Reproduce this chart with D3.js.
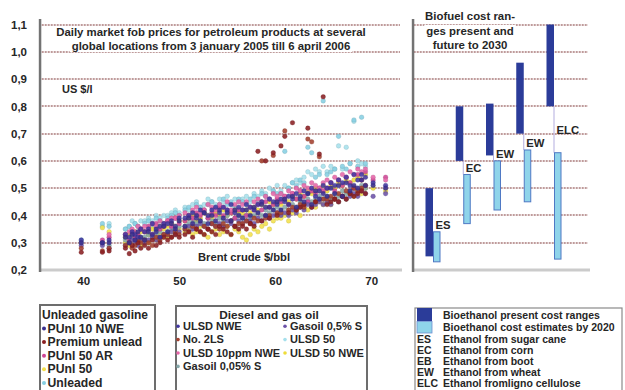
<!DOCTYPE html>
<html><head><meta charset="utf-8">
<script src="https://cdn.jsdelivr.net/npm/d3@7"></script>
<style>
body{margin:0;background:#fff}
svg{display:block;font-family:"Liberation Sans",Arial,Helvetica,sans-serif}
</style>
</head><body>
<svg id="c" width="625" height="390"></svg>
<script>
// ---------- DATA ----------
// Brent crude ($/bbl) on the sampled days
const brent = [39.8, 42.0, 42.7,
  44.4, 44.8, 45.1, 45.4, 45.7, 46.0,
  46.4, 46.8, 47.2, 47.6, 48.0, 48.4,
  48.8, 49.2, 49.6, 50.0,
  50.6, 51.0, 51.4, 51.8, 52.2, 52.6, 53.0, 53.4, 53.8, 54.2, 54.6, 55.0, 55.4, 55.8, 56.2,
  56.6, 57.0, 57.4, 57.8, 58.2, 58.6, 59.0, 59.4, 59.8, 60.2,
  60.6, 61.0, 61.4, 61.8, 62.2, 62.6, 63.0, 63.4, 63.8, 64.2, 64.6, 65.0,
  65.4, 65.8, 66.2, 66.6, 67.0, 67.4, 67.8, 68.2, 68.6, 69.0, 69.4,
  70.2, 71.5];

// Product prices (US $/l) on the same days
const pUnl10NWE = [0.30,0.30,0.30, 0.32,0.30,0.33,0.31,0.34,0.32, 0.31,0.34,0.33,0.35,0.32,0.36, 0.34,0.37,0.35,0.38,
  0.36,0.39,0.37,0.40,0.38,0.41,0.37,0.40,0.38,0.42,0.39,0.41,0.38,0.42,0.40,
  0.39,0.42,0.40,0.43,0.41,0.44,0.40,0.43,0.42,0.45,
  0.42,0.46,0.44,0.47,0.43,0.46,0.45,0.48,0.44,0.49,0.46,0.48,
  0.47,0.50,0.48,0.51,0.47,0.52,0.49,0.51,0.50,0.53,0.51, 0.51,0.50];
const premiumUnlead = [0.265,0.265,0.27, 0.28,0.26,0.29,0.27,0.30,0.28, 0.29,0.28,0.31,0.29,0.30,0.32, 0.31,0.32,0.33,0.32,
  0.33,0.34,0.32,0.35,0.34,0.33,0.35,0.34,0.33,0.36,0.35,0.34,0.33,0.36,0.35,
  0.36,0.35,0.37,0.36,0.635,0.38,0.60,0.39,0.63,0.40,
  0.655,0.69,0.41,0.74,0.42,0.43,0.44,0.72,0.43,0.45,0.625,0.835,
  0.44,0.45,0.46,0.45,0.47,0.46,0.48,0.47,0.48,0.49,0.48, null,null];
const pUnl50AR = [null,0.31,0.32, 0.33,0.31,0.34,0.32,0.33,0.35, 0.34,0.36,0.33,0.37,0.35,0.36, 0.38,0.36,0.39,0.37,
  0.38,0.40,0.39,0.41,0.40,0.42,0.39,0.41,0.40,0.43,0.40,0.42,0.41,0.39,0.42,
  0.42,0.40,0.43,0.42,0.44,0.42,0.45,0.43,0.44,0.46,
  0.45,0.47,0.44,0.48,0.46,0.49,0.47,0.45,0.49,0.48,0.50,0.49,
  0.50,0.52,0.49,0.53,0.51,0.54,0.52,0.50,0.55,0.53,0.56, 0.53,0.54];
const pUnl50 = [null,0.355,0.34, 0.30,0.29,0.31,0.30,0.32,0.29, 0.31,0.30,0.32,0.31,0.33,0.32, 0.32,0.34,0.33,0.35,
  0.34,0.35,0.33,0.34,0.36,0.33,0.32,0.34,0.35,0.33,0.34,0.36,0.33,0.35,0.34,
  0.32,0.31,0.33,0.35,0.34,0.36,0.37,0.35,0.38,0.39,
  0.39,0.40,0.38,0.41,0.42,0.40,0.43,0.42,0.44,0.43,0.45,0.44,
  0.45,0.44,0.46,0.45,0.47,0.46,0.48,0.47,0.49,0.48,0.50, null,null];
const unleaded = [0.31,0.37,0.36, 0.35,0.36,0.34,0.37,0.36,0.35, 0.37,0.38,0.36,0.39,0.38,0.37, 0.39,0.40,0.41,0.40,
  0.42,0.43,0.41,0.44,0.43,0.42,0.44,0.45,0.43,0.44,0.46,0.44,0.45,0.43,0.46,
  0.45,0.44,0.46,0.47,0.45,0.48,0.47,0.46,0.49,0.48,
  0.48,0.635,0.50,0.52,0.51,0.53,0.52,0.65,0.63,0.54,0.55,0.82,
  0.55,0.56,0.57,0.69,0.58,0.57,0.59,0.75,0.58,0.76,0.59, null,null];
const ulsdNWE = [0.31,0.30,0.31, 0.33,0.32,0.34,0.33,0.32,0.35, 0.34,0.35,0.37,0.34,0.36,0.37, 0.37,0.38,0.36,0.39,
  0.39,0.40,0.41,0.39,0.42,0.41,0.40,0.42,0.43,0.41,0.43,0.42,0.44,0.41,0.43,
  0.42,0.44,0.43,0.42,0.44,0.45,0.43,0.46,0.45,0.44,
  0.46,0.45,0.47,0.46,0.48,0.47,0.49,0.48,0.50,0.47,0.49,0.51,
  0.50,0.52,0.51,0.53,0.52,0.54,0.51,0.55,0.53,0.55,0.54, 0.52,0.51];
const no2LS = [0.28,0.27,0.28, 0.29,0.30,0.28,0.29,0.31,0.30, 0.31,0.30,0.29,0.32,0.31,0.33, 0.33,0.32,0.34,0.33,
  0.35,0.34,0.36,0.35,0.34,0.36,0.35,0.37,0.36,0.35,0.37,0.36,0.38,0.36,0.37,
  0.37,0.38,0.37,0.39,0.38,0.60,0.39,0.40,0.62,0.41,
  0.41,0.71,0.42,0.43,0.42,0.44,0.43,0.68,0.67,0.45,0.615,0.46,
  0.46,0.47,0.46,0.48,0.47,0.49,0.48,0.50,0.49,0.50,0.51, null,null];
const ulsd10ppmNWE = [null,null,0.33, 0.33,0.34,0.35,0.34,0.36,0.35, 0.36,0.35,0.37,0.36,0.38,0.37, 0.38,0.39,0.39,0.40,
  0.41,0.40,0.42,0.43,0.41,0.42,0.44,0.43,0.42,0.44,0.43,0.45,0.42,0.44,0.45,
  0.44,0.45,0.43,0.45,0.46,0.45,0.47,0.46,0.48,0.47,
  0.48,0.47,0.49,0.48,0.50,0.49,0.51,0.50,0.52,0.51,0.50,0.52,
  0.53,0.52,0.54,0.53,0.55,0.54,0.56,0.55,0.57,0.56,0.57, 0.54,0.53];
const gasoil005S = [0.30,0.30,0.29, 0.31,0.30,0.32,0.31,0.30,0.32, 0.32,0.33,0.32,0.33,0.34,0.33, 0.34,0.35,0.35,0.36,
  0.36,0.37,0.38,0.37,0.38,0.37,0.39,0.38,0.37,0.39,0.38,0.40,0.38,0.39,0.40,
  0.39,0.40,0.39,0.40,0.41,0.40,0.42,0.41,0.42,0.43,
  0.42,0.43,0.42,0.44,0.43,0.45,0.44,0.46,0.45,0.46,0.47,0.46,
  0.47,0.46,0.48,0.47,0.49,0.48,0.49,0.50,0.49,0.51,0.50, null,null];
const gasoil05S = [0.29,0.29,0.28, 0.29,0.30,0.31,0.30,0.29,0.31, 0.30,0.31,0.32,0.31,0.32,0.33, 0.33,0.34,0.33,0.34,
  0.35,0.36,0.35,0.36,0.37,0.36,0.35,0.37,0.36,0.37,0.36,0.38,0.37,0.36,0.38,
  0.37,0.38,0.38,0.37,0.39,0.38,0.40,0.39,0.40,0.41,
  0.40,0.41,0.40,0.42,0.41,0.43,0.42,0.44,0.43,0.44,0.45,0.44,
  0.45,0.44,0.46,0.45,0.47,0.46,0.47,0.48,0.47,0.49,0.48, 0.47,0.48];
const ulsd50 = [null,0.36,0.37, 0.35,0.36,0.38,0.37,0.36,0.38, 0.38,0.39,0.38,0.40,0.39,0.40, 0.40,0.41,0.42,0.41,
  0.43,0.42,0.44,0.45,0.43,0.44,0.46,0.45,0.44,0.46,0.45,0.47,0.44,0.46,0.45,
  0.46,0.47,0.45,0.48,0.47,0.49,0.48,0.50,0.49,0.51,
  0.49,0.51,0.50,0.52,0.53,0.52,0.54,0.56,0.55,0.57,0.56,0.58,
  0.56,0.58,0.57,0.655,0.57,0.65,0.59,0.745,0.60,0.59,0.58, null,null];
const ulsd50NWE = [null,null,null, 0.32,0.33,0.32,0.34,0.33,0.34, 0.34,0.33,0.35,0.34,0.36,0.35, 0.36,0.37,0.36,0.38,
  0.38,0.39,0.40,0.38,0.39,0.41,0.40,0.39,0.41,0.40,0.42,0.40,0.41,0.42,0.41,
  0.41,0.42,0.41,0.43,0.42,0.44,0.43,0.45,0.44,0.45,
  0.44,0.46,0.45,0.47,0.46,0.48,0.47,0.49,0.48,0.50,0.49,0.51,
  0.49,0.51,0.50,0.52,0.51,0.53,0.52,0.53,0.54,0.53,0.55, 0.50,0.49];

const gasolineNames = ["PUnl 10 NWE","Premium unlead","PUnl 50 AR","PUnl 50","Unleaded"];
const gasolineColors = ["#3a2f8e","#8a1f22","#cf4596","#f3e04a","#86cfe2"];
const dieselNames = ["ULSD NWE","No. 2LS","ULSD 10ppm NWE","Gasoil 0,05% S","Gasoil 0,5% S","ULSD 50","ULSD 50 NWE"];
const dieselColors = ["#4237a0","#a3402e","#e565a8","#86a8aa","#6c52a8","#a6e0ec","#eedc3a"];

const yTicks = [0.2,0.3,0.4,0.5,0.6,0.7,0.8,0.9,1.0,1.1];
const xTicks = [40,50,60,70];

// Biofuel cost ranges (US $/l)
const bioCodes = ["ES","EC","EW","EW","ELC"];
const presentLow  = [0.25,0.60,0.62,0.70,0.80];
const presentHigh = [0.50,0.80,0.81,0.96,1.10];
const futureLow   = [0.23,0.37,0.42,0.45,0.24];
const futureHigh  = [0.34,0.55,0.60,0.64,0.63];

const bioLegendNames = ["Bioethanol present cost ranges","Bioethanol cost estimates by 2020"];
const bioLegendCodes = ["ES","EC","EB","EW","ELC"];
const bioLegendTexts = ["Ethanol from sugar cane","Ethanol from corn","Ethanol from boot","Ethanol from wheat","Ethanol fromligno cellulose"];

// ---------- DRAWING ----------
const svg = d3.select("#c");
const TXT = "#262626";
const GRID = "#bf9b9b";
const DARK = "#2b3c99", LIGHT = "#8fd4ea", LIGHTSTROKE = "#4f79c4";

const x = d3.scaleLinear().domain([35.5, 73]).range([40, 400]);
const y = d3.scaleLinear().domain([0.2, 1.1]).range([270, 24.5]);
const fmt = v => d3.format(".1f")(v).replace(".", ",");

// dotted pattern for gridlines
const defs = svg.append("defs");
const pat = defs.append("pattern").attr("id","dots").attr("patternUnits","userSpaceOnUse")
  .attr("width",3).attr("height",2).attr("x",0).attr("y",0);
pat.append("rect").attr("x",0).attr("y",0).attr("width",3).attr("height",2).attr("fill","#ece2e2");
pat.append("rect").attr("x",0).attr("y",0).attr("width",1.6).attr("height",2).attr("fill",GRID);

// y labels (left)
const gy = svg.append("g").attr("transform","translate(40,0)")
  .call(d3.axisLeft(y).tickValues(yTicks).tickFormat(fmt).tickSize(0).tickPadding(13));
gy.select(".domain").remove();
gy.selectAll("text").attr("font-size", 11.5).attr("font-weight","bold").attr("fill", TXT).attr("font-family","Liberation Sans, Arial, sans-serif");

// dotted gridlines (both panels), drawn as thin patterned rects
const gridVals = yTicks.filter(v => v > 0.2);
function drawGrid(x1, x2){
  svg.append("g").selectAll("rect").data(gridVals).join("rect")
    .attr("x", x1).attr("width", x2 - x1)
    .attr("y", d => Math.round(y(d)) - 1).attr("height", 2)
    .attr("fill", "url(#dots)");
}
drawGrid(41, 400);
drawGrid(414, 588);

// x axes (baseline bars)
svg.append("rect").attr("x",40).attr("y",y(0.2) - 1.5).attr("width",362).attr("height",3).attr("fill","#cbcbcb");
svg.append("rect").attr("x",413).attr("y",y(0.2) - 1.5).attr("width",177).attr("height",3).attr("fill","#cbcbcb");
const gx = svg.append("g").attr("transform","translate(0,270)")
  .call(d3.axisBottom(x).tickValues(xTicks).tickSize(0).tickSizeOuter(0).tickPadding(7));
gx.select(".domain").remove();
gx.selectAll("text").attr("font-size", 11.5).attr("font-weight","bold").attr("fill", TXT).attr("font-family","Liberation Sans, Arial, sans-serif");

// scatter
const seriesValues = [ulsd50, unleaded, pUnl50, ulsd50NWE, gasoil005S, pUnl50AR, ulsd10ppmNWE, gasoil05S, no2LS, premiumUnlead, ulsdNWE, pUnl10NWE];
const seriesCols = [dieselColors[5], gasolineColors[4], gasolineColors[3], dieselColors[6], dieselColors[3], gasolineColors[2], dieselColors[2], dieselColors[4], dieselColors[1], gasolineColors[1], dieselColors[0], gasolineColors[0]];
const pts = [];
seriesValues.forEach((vals, si) => vals.forEach((v, i) => { if (v != null) pts.push({bx: brent[i], v, c: seriesCols[si]}); }));
svg.append("g").selectAll("circle").data(pts).join("circle")
  .attr("cx", d => x(d.bx)).attr("cy", d => y(d.v)).attr("r", 2.3)
  .attr("fill", d => d.c).attr("fill-opacity", 0.88)
  .attr("stroke", d => d3.color(d.c).darker(0.7)).attr("stroke-width", 0.5).attr("stroke-opacity", 0.6);

// axes vertical lines
svg.append("rect").attr("x",38.8).attr("y",19).attr("width",2.5).attr("height",253).attr("fill","#737373");
svg.append("rect").attr("x",411.8).attr("y",19).attr("width",2.5).attr("height",253).attr("fill","#737373");

// text helper with white background
function label(txt, px, py, opts = {}){
  const g = svg.append("g");
  const t = g.append("text").attr("x", px).attr("y", py).text(txt)
    .attr("font-size", opts.size || 11).attr("font-weight", "bold").attr("fill", TXT)
    .attr("text-anchor", opts.anchor || "start");
  if (opts.bg){
    const b = t.node().getBBox();
    g.insert("rect","text").attr("x", b.x - 2).attr("y", b.y).attr("width", b.width + 4).attr("height", b.height).attr("fill", "#fff");
  }
  return t;
}

label("Daily market fob prices for petroleum products at several", 211, 36, {size:11.4, anchor:"middle", bg:true});
label("global locations from 3 january 2005 till 6 april 2006", 211, 50, {size:11.4, anchor:"middle", bg:true});
label("US $/l", 62, 93, {size:11});
label("Brent crude $/bbl", 198, 261, {size:11.2});

label("Biofuel cost ran-", 470, 20, {size:11.4, anchor:"middle", bg:true});
label("ges present and", 470, 35, {size:11.4, anchor:"middle", bg:true});
label("future to 2030", 470, 49, {size:11.4, anchor:"middle", bg:true});

// biofuel bars
const bx = d3.scalePoint().domain(d3.range(bioCodes.length)).range([433, 554]);
const bw = 7.5;
const bio = svg.append("g");
bioCodes.forEach((code, i) => {
  const cx = bx(i);
  if (futureHigh[i] < presentLow[i]) {
    bio.append("rect").attr("x", cx - 0.5).attr("width", 1).attr("y", y(presentLow[i]))
      .attr("height", y(futureHigh[i]) - y(presentLow[i])).attr("fill", "#b4aee0");
  }
  bio.append("rect").attr("x", cx - bw).attr("width", bw)
    .attr("y", y(presentHigh[i])).attr("height", y(presentLow[i]) - y(presentHigh[i])).attr("fill", DARK);
  bio.append("rect").attr("x", cx + 0.5).attr("width", bw - 1)
    .attr("y", y(futureHigh[i])).attr("height", y(futureLow[i]) - y(futureHigh[i]))
    .attr("fill", LIGHT).attr("stroke", LIGHTSTROKE).attr("stroke-width", 1);
  const gap = y(futureHigh[i]) - y(presentLow[i]);
  const ly = gap > 20 ? (y(futureHigh[i]) + y(presentLow[i])) / 2 + 4 : y(futureHigh[i]) - 3;
  label(code, cx + 2.5, ly, {size:11.3});
});

// ---- legend 1 : gasoline
const l1 = svg.append("g");
l1.append("rect").attr("x",40).attr("y",305).attr("width",115).attr("height",100)
  .attr("fill","#fff").attr("stroke","#6d6d6d").attr("stroke-width",2);
l1.append("text").attr("x",42).attr("y",318.5).text("Unleaded gasoline")
  .attr("font-size",12).attr("font-weight","bold").attr("fill",TXT);
gasolineNames.forEach((n, i) => {
  const yy = 332.5 + i * 13.6;
  l1.append("circle").attr("cx",44).attr("cy",yy - 4).attr("r",2).attr("fill",gasolineColors[i]);
  l1.append("text").attr("x",47.5).attr("y",yy).text(n).attr("font-size",12.2).attr("font-weight","bold").attr("fill",TXT);
});

// ---- legend 2 : diesel
const l2 = svg.append("g");
l2.append("rect").attr("x",176).attr("y",306).attr("width",191).attr("height",100)
  .attr("fill","#fff").attr("stroke","#6d6d6d").attr("stroke-width",2);
l2.append("text").attr("x",269).attr("y",319).attr("text-anchor","middle").text("Diesel and gas oil")
  .attr("font-size",11.8).attr("font-weight","bold").attr("fill",TXT);
dieselNames.forEach((n, i) => {
  const col = i < 4 ? 0 : 1, row = i < 4 ? i : i - 4;
  const xx = col ? 285 : 178, yy = 330 + row * 13.4;
  l2.append("circle").attr("cx",xx).attr("cy",yy - 3.8).attr("r",1.8).attr("fill",dieselColors[i]);
  l2.append("text").attr("x",xx + 5).attr("y",yy).text(n).attr("font-size",11).attr("font-weight","bold").attr("fill",TXT);
});

// ---- legend 3 : biofuel
const l3 = svg.append("g");
l3.append("rect").attr("x",415).attr("y",308).attr("width",207).attr("height",100)
  .attr("fill","#fff").attr("stroke","#8a8a8a").attr("stroke-width",1.2);
l3.append("rect").attr("x",417).attr("y",308).attr("width",15).attr("height",13).attr("fill",DARK);
l3.append("rect").attr("x",417).attr("y",321.5).attr("width",15).attr("height",11.5).attr("fill",LIGHT).attr("stroke","#6d8fd0").attr("stroke-width",0.8);
bioLegendNames.forEach((n, i) => {
  l3.append("text").attr("x",443).attr("y",318.8 + i * 12.3).text(n).attr("font-size",10.5).attr("font-weight","bold").attr("fill",TXT);
});
bioLegendCodes.forEach((c, i) => {
  const yy = 342.8 + i * 11.1;
  l3.append("text").attr("x",417).attr("y",yy).text(c).attr("font-size",10.5).attr("font-weight","bold").attr("fill",TXT);
  l3.append("text").attr("x",443).attr("y",yy).text(bioLegendTexts[i]).attr("font-size",10.5).attr("font-weight","bold").attr("fill",TXT);
});
</script>
</body></html>
